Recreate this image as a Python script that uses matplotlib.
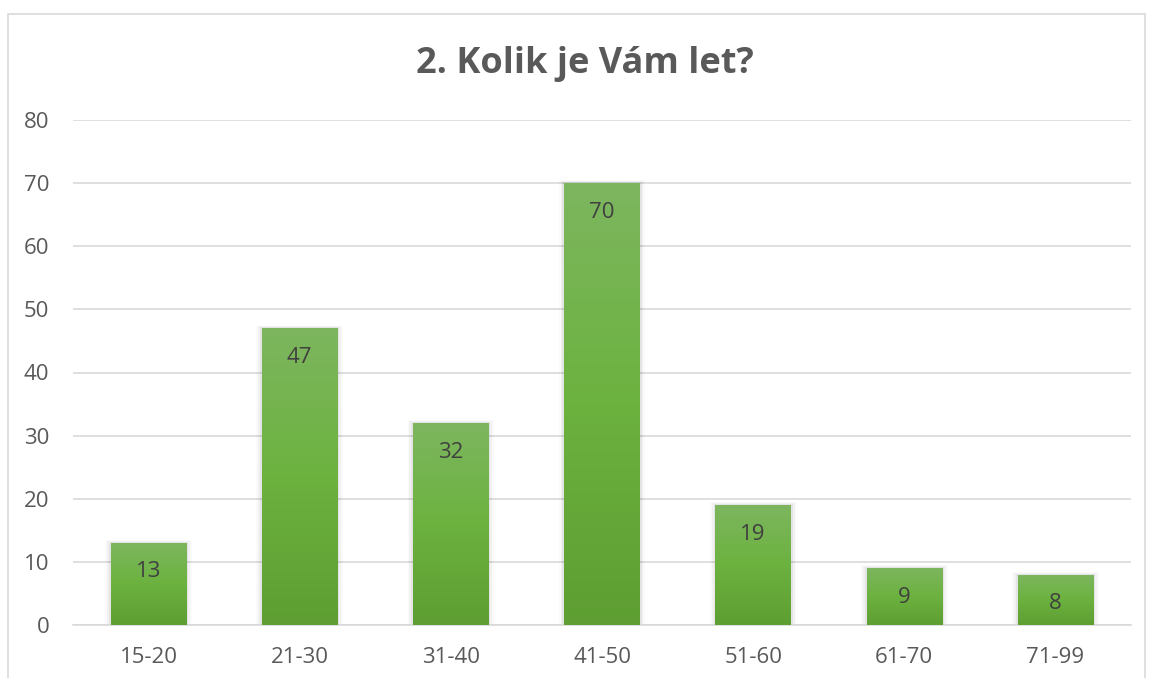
import numpy as np
import matplotlib
matplotlib.use('Agg')
import matplotlib.pyplot as plt
from matplotlib.colors import LinearSegmentedColormap
from matplotlib.patches import Rectangle
from matplotlib.transforms import ScaledTranslation

# data
categories = ['15-20', '21-30', '31-40', '41-50', '51-60', '61-70', '71-99']
counts = [13, 47, 32, 70, 19, 9, 8]
title = '2. Kolik je Vám let?'

plt.rcParams['font.family'] = ['Open Sans', 'DejaVu Sans']

fig = plt.figure(figsize=(11.51, 6.78), dpi=100)
ax = fig.add_axes([73 / 1151, 1 - 625 / 678, (1131 - 73) / 1151, (625 - 120) / 678])

# chart border
fig.patches.append(Rectangle((8 / 1151, -0.05), (1145 - 8) / 1151, 1.05 - 14 / 678,
                             transform=fig.transFigure, fill=False,
                             edgecolor='#d9d9d9', linewidth=1.2))

green = LinearSegmentedColormap.from_list('g', ['#5e9e32', '#6cb23f', '#7db65f'])
grad = np.linspace(0, 1, 256).reshape(-1, 1)

x = np.arange(len(categories))
bars = ax.bar(x, counts, width=0.5, color='none', zorder=3)
label_shift = ScaledTranslation(0, -29 / 100, fig.dpi_scale_trans)
for b, v in zip(bars, counts):
    x0, w, h = b.get_x(), b.get_width(), b.get_height()
    # soft shadow
    for k, a in enumerate([0.05, 0.035, 0.02]):
        s = (k + 1) * 0.012
        ax.add_patch(Rectangle((x0 - s, -0.3), w + 2 * s, h + 0.3 + s * 12,
                               facecolor='black', alpha=a, linewidth=0, zorder=2))
    im = ax.imshow(grad, cmap=green, origin='lower', aspect='auto',
                   extent=(x0, x0 + w, 0, h), zorder=3)
    im.set_clip_path(b)
    ax.text(x0 + w / 2, h, str(v), ha='center', va='center',
            fontsize=16, color='#404040', zorder=4,
            transform=ax.transData + label_shift)

ax.set_xlim(-0.5, len(categories) - 0.5)
ax.set_ylim(0, 80)
ax.set_yticks(range(0, 81, 10))
ax.set_xticks(x)
ax.set_xticklabels(categories)
ax.yaxis.grid(True, color='#d9d9d9', linewidth=1.2, zorder=0)
ax.set_axisbelow(True)
for s in ['top', 'right', 'left']:
    ax.spines[s].set_visible(False)
ax.spines['bottom'].set_color('#d9d9d9')
ax.spines['bottom'].set_linewidth(1.2)
ax.tick_params(length=0, labelsize=16, colors='#595959')
ax.tick_params(axis='x', pad=16)
ax.tick_params(axis='y', pad=17)

fig.text(585 / 1151, 1 - 73 / 678, title, ha='center', va='baseline',
         fontsize=26, fontweight='bold', color='#595959')

fig.savefig('out.png', dpi=100)
